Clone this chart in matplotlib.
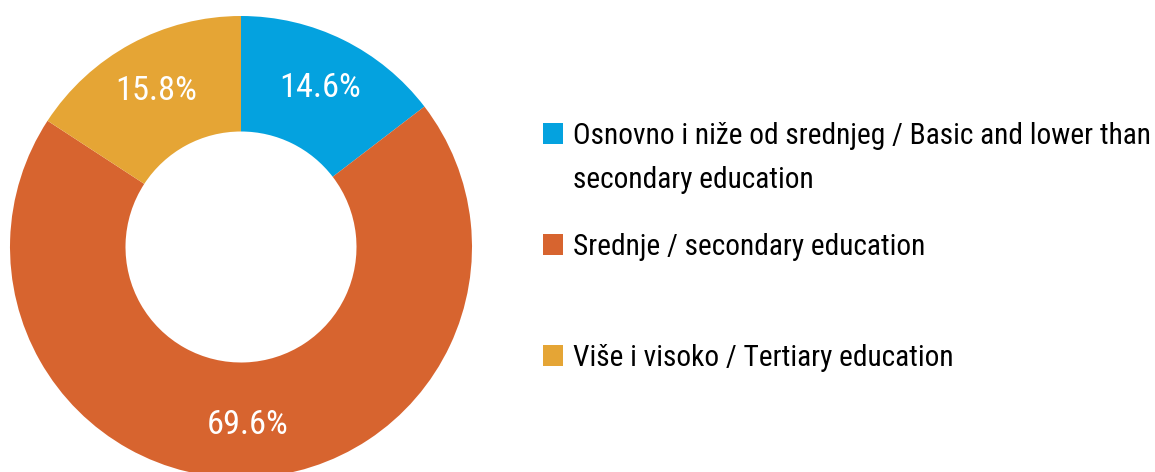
import matplotlib.pyplot as plt
from matplotlib import font_manager
from matplotlib.patches import Rectangle

labels = ["Osnovno i niže od srednjeg / Basic and lower than\nsecondary education",
          "Srednje / secondary education",
          "Više i visoko / Tertiary education"]
shares = [14.6, 69.6, 15.8]
colors = ["#04A2DF", "#D7642F", "#E5A535"]

# want a condensed face; take the first one that is installed
have = {f.name for f in font_manager.fontManager.ttflist}
prefs = ["Liberation Sans Narrow", "DejaVu Sans Condensed", "Roboto Condensed",
         "Open Sans Condensed", "Roboto", "Lato", "DejaVu Sans"]
face = next(p for p in prefs if p in have)
plt.rcParams['font.family'] = [face, 'DejaVu Sans']

W, H = 1155, 472
fig = plt.figure(figsize=(W / 100, H / 100), dpi=100)
rend = fig.canvas.get_renderer()

def size_for(s, px, start=22):
    t = fig.text(0, 0, s, fontsize=start)
    w = t.get_window_extent(rend).width
    t.remove()
    return start * px / w

# donut: centre (241, 247) px, radius 231 px
cx, cy, r = 241, 247, 231
ax = fig.add_axes([(cx - r) / W, (H - cy - r) / H, 2 * r / W, 2 * r / H])
ax.pie(shares, colors=colors, startangle=90, counterclock=False,
       radius=1, wedgeprops=dict(width=0.5, linewidth=0),
       autopct=lambda p: f"{p:.1f}%", pctdistance=0.77,
       textprops=dict(color="white", fontsize=min(28, size_for("14.6%", 82))))
ax.set_xlim(-1, 1)
ax.set_ylim(-1, 1)
ax.set_aspect("equal")
ax.axis("off")

# legend, drawn by hand so the marker sits on the first line
fs = min(25, size_for("Srednje / secondary education", 352))
baselines = [144, 255, 366]
line_gap = 44
for lab, col, yb in zip(labels, colors, baselines):
    fig.add_artist(Rectangle((543 / W, 1 - yb / H), 20 / W, 21 / H,
                             transform=fig.transFigure, color=col, lw=0))
    for i, line in enumerate(lab.split("\n")):
        fig.text(573 / W, 1 - (yb + i * line_gap) / H, line,
                 fontsize=fs, va="baseline", ha="left", color="black")

fig.savefig("out.png", dpi=100)
